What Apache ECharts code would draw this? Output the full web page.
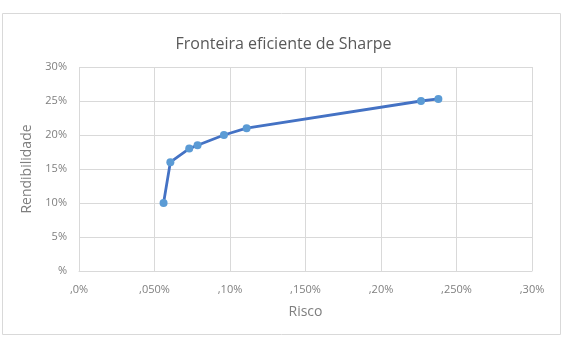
<!DOCTYPE html>
<html>
<head>
<meta charset="utf-8">
<script src="https://cdn.jsdelivr.net/npm/echarts@6/dist/echarts.min.js"></script>
<style>
  html, body { margin: 0; padding: 0; background: #fff; }
  #chart { width: 567px; height: 340px; }
</style>
</head>
<body>
<div id="chart"></div>
<script>
// dados
var risco = [0.056, 0.0605, 0.073, 0.0785, 0.096, 0.111, 0.2265, 0.238];
var rendibilidade = [0.10, 0.16, 0.18, 0.185, 0.20, 0.21, 0.25, 0.253];
var xTickLabels = [',0%', ',050%', ',10%', ',150%', ',20%', ',250%', ',30%'];
var yTickLabels = ['%', '5%', '10%', '15%', '20%', '25%', '30%'];

var pontos = [];
for (var i = 0; i < risco.length; i++) {
    pontos.push([risco[i], rendibilidade[i]]);
}

var fonte = '"Open Sans", "Noto Sans", sans-serif';
var myChart = echarts.init(document.getElementById('chart'));
myChart.setOption({
    animation: false,
    title: {
        text: 'Fronteira eficiente de Sharpe',
        left: 'center',
        top: 31,
        textStyle: { fontFamily: fonte, fontSize: 16, fontWeight: 'normal', color: '#595959' }
    },
    graphic: [{
        type: 'rect',
        shape: { x: 2.5, y: 13.5, width: 558, height: 321 },
        style: { fill: 'none', stroke: '#d9d9d9', lineWidth: 1 },
        silent: true
    }],
    grid: { left: 79, right: 35, top: 67, bottom: 69 },
    xAxis: {
        type: 'value',
        min: 0, max: 0.3, interval: 0.05,
        name: 'Risco',
        nameLocation: 'middle',
        nameGap: 34,
        nameTextStyle: { fontFamily: fonte, fontSize: 14, color: '#7f7f7f' },
        axisLine: { show: true, lineStyle: { color: '#d9d9d9' } },
        axisTick: { show: false },
        splitLine: { show: true, lineStyle: { color: '#d9d9d9' } },
        axisLabel: {
            fontFamily: fonte, fontSize: 11, color: '#7f7f7f', margin: 13,
            formatter: function (v) { return xTickLabels[Math.round(v / 0.05)]; }
        }
    },
    yAxis: {
        type: 'value',
        min: 0, max: 0.3, interval: 0.05,
        name: 'Rendibilidade',
        nameLocation: 'middle',
        nameGap: 42,
        nameTextStyle: { fontFamily: fonte, fontSize: 14, color: '#7f7f7f' },
        axisLine: { show: false },
        axisTick: { show: false },
        splitLine: { show: true, lineStyle: { color: '#d9d9d9' } },
        axisLabel: {
            fontFamily: fonte, fontSize: 11, color: '#7f7f7f', margin: 12,
            formatter: function (v) { return yTickLabels[Math.round(v / 0.05)]; }
        }
    },
    series: [{
        type: 'line',
        data: pontos,
        symbol: 'circle',
        symbolSize: 8,
        lineStyle: { color: '#4472c4', width: 2.8 },
        itemStyle: { color: '#5b9bd5' }
    }]
});
</script>
</body>
</html>
